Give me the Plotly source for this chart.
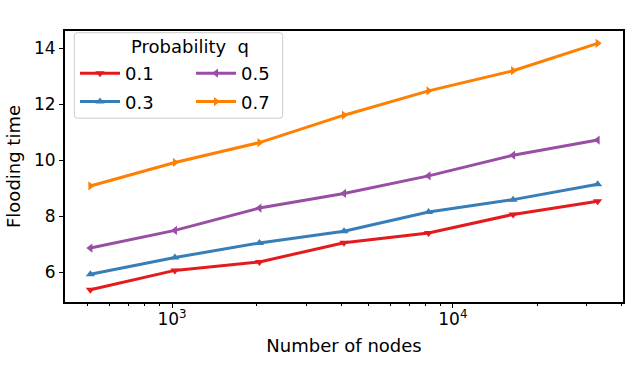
import math
import plotly.graph_objects as go

nodes = [512, 1024, 2048, 4096, 8192, 16384, 32768]
q_labels = ["0.1", "0.3", "0.5", "0.7"]
time_q01 = [5.37, 6.06, 6.36, 7.05, 7.40, 8.06, 8.53]
time_q03 = [5.92, 6.52, 7.04, 7.46, 8.15, 8.59, 9.14]
time_q05 = [6.86, 7.49, 8.29, 8.81, 9.44, 10.18, 10.72]
time_q07 = [9.08, 9.92, 10.63, 11.61, 12.48, 13.20, 14.18]
series = [time_q01, time_q03, time_q05, time_q07]
colors = ["#e41a1c", "#377eb8", "#984ea3", "#ff7f00"]
symbols = ["triangle-down", "triangle-up", "triangle-left", "triangle-right"]
legend_ids = ["legend", "legend", "legend2", "legend2"]

x_major = [1000, 10000]
x_major_text = ["10<sup>3</sup>", "10<sup>4</sup>"]
x_minor = [500, 600, 700, 800, 900, 2000, 3000, 4000, 5000, 6000, 7000, 8000, 9000,
           20000, 30000, 40000]
y_ticks = [6, 8, 10, 12, 14]

W, H = 630, 365
ML, MR, MT, MB = 65, 7, 31, 62.5
PW, PH = W - ML - MR, H - MT - MB


def px_to_paper_x(px):
    return (px - ML) / PW


def px_to_paper_y(py):
    return (H - MB - py) / PH


fig = go.Figure()
for lab, vals, col, sym, lg in zip(q_labels, series, colors, symbols, legend_ids):
    fig.add_trace(go.Scatter(
        x=nodes, y=vals, name=lab, mode="lines+markers",
        line=dict(color=col, width=3),
        marker=dict(symbol=sym, size=8, color=col),
        legend=lg, legendgroup=lab,
    ))

lx0 = math.log10(min(nodes)); lx1 = math.log10(max(nodes))
dx = (lx1 - lx0) * 0.05
allv = [v for s in series for v in s]
y0, y1 = min(allv), max(allv)
dy = (y1 - y0) * 0.05

font = "DejaVu Sans"

# legend box
bx0, bx1 = px_to_paper_x(74.3), px_to_paper_x(282.7)
by0, by1 = px_to_paper_y(118.3), px_to_paper_y(32.7)
rx, ry = 3 / PW, 3 / PH
path = (f"M{bx0+rx},{by1} L{bx1-rx},{by1} Q{bx1},{by1} {bx1},{by1-ry} "
        f"L{bx1},{by0+ry} Q{bx1},{by0} {bx1-rx},{by0} L{bx0+rx},{by0} "
        f"Q{bx0},{by0} {bx0},{by0+ry} L{bx0},{by1-ry} Q{bx0},{by1} {bx0+rx},{by1} Z")

fig.update_layout(
    width=W, height=H,
    margin=dict(l=ML, r=MR, t=MT, b=MB, pad=0),
    paper_bgcolor="white", plot_bgcolor="white",
    font=dict(family=font, color="black", size=17),
    showlegend=True,
    shapes=[dict(type="path", xref="paper", yref="paper", path=path,
                 line=dict(color="#cccccc", width=1), fillcolor="rgba(255,255,255,0.8)",
                 layer="above")],
    annotations=[dict(text="Probability  q", xref="paper", yref="paper",
                      x=px_to_paper_x(190), y=px_to_paper_y(47), showarrow=False,
                      xanchor="center", yanchor="middle", font=dict(size=18))],
    legend=dict(x=px_to_paper_x(75), y=px_to_paper_y(55), xanchor="left", yanchor="top",
                bgcolor="rgba(0,0,0,0)", borderwidth=0, font=dict(size=18),
                itemwidth=40, tracegroupgap=2),
    legend2=dict(x=px_to_paper_x(191), y=px_to_paper_y(55), xanchor="left", yanchor="top",
                 bgcolor="rgba(0,0,0,0)", borderwidth=0, font=dict(size=18),
                 itemwidth=40, tracegroupgap=2),
    xaxis=dict(type="log", range=[lx0 - dx, lx1 + dx], showgrid=False, zeroline=False,
               automargin=False,
               showline=True, linecolor="black", linewidth=2, mirror=True,
               ticks="outside", ticklen=4, tickwidth=1, tickcolor="black",
               ticklabelstandoff=-3,
               tickmode="array", tickvals=x_major, ticktext=x_major_text,
               minor=dict(ticks="outside", ticklen=2, tickwidth=1, tickcolor="black",
                          tickmode="array", tickvals=x_minor, showgrid=False),
               title=dict(text="Number of nodes", font=dict(size=18), standoff=11)),
    yaxis=dict(range=[y0 - dy, y1 + dy], showgrid=False, zeroline=False,
               automargin=False,
               showline=True, linecolor="black", linewidth=2, mirror=True,
               ticks="outside", ticklen=4, tickwidth=1, tickcolor="black",
               tickmode="array", tickvals=y_ticks,
               title=dict(text="Flooding time", font=dict(size=18), standoff=9)),
)

fig.write_html("out.html", config={"displayModeBar": False},
               post_script="document.body.style.margin='0';document.body.style.overflow='hidden';")
